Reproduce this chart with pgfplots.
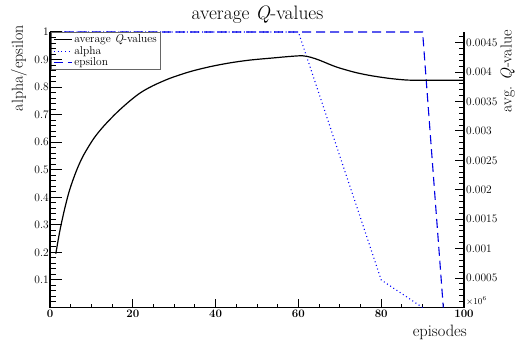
\documentclass[border=0pt]{standalone}
\usepackage{fontspec}
\usepackage{pgfplots}
\pgfplotsset{compat=1.18}
\begin{document}
\begin{tikzpicture}
\pgfplotsset{
  common/.style={
    at={(0,0)}, anchor=south west, scale only axis,
    width=414bp, height=275.5bp,
    xmin=0, xmax=100,
    axis line style={-, line width=1.4bp, black},
    tick align=inside,
    tick style={line width=1bp, black},
    ticklabel style={font=\fontsize{11.5}{12}\selectfont},
    /pgf/number format/assume math mode=true,
  }
}
\begin{axis}[common,
  ymin=0, ymax=1,
  axis x line*=bottom, axis y line=none,
  xtick={0,20,40,60,80,100},
  minor xtick={0,5,...,100},
  major tick length=8bp, minor tick length=4bp,
  xticklabel={\textbf{\pgfmathprintnumber{\tick}}},
  xticklabel style={inner sep=2bp},
  clip=false,
  legend cell align=left,
  legend style={at={(0.002,1)}, anchor=north west, draw=gray!80!black, line width=0.8bp,
    fill=white, inner xsep=2bp, inner ysep=0.5bp, row sep=-2bp,
    font=\fontsize{11.5}{11.5}\selectfont},
  legend image code/.code={\draw[#1] (0bp,0bp) -- (18bp,0bp);},
]
\addlegendimage{black, line width=1.1bp}
\addlegendentry{average \textit{Q}-values}
\addplot[blue, dash pattern=on 1bp off 2.8bp, line width=1.1bp] coordinates {(0,1) (60,1) (80,0.1) (90,0)};
\addlegendentry{alpha}
\addplot[blue!90!black, dash pattern=on 9bp off 5bp, line width=1.1bp] coordinates {(0,1) (90,1) (95,0)};
\addlegendentry{epsilon}
\end{axis}
\begin{axis}[common,
  ymin=0, ymax=1,
  axis x line=none, axis y line*=left,
  ytick={0.1,0.2,0.3,0.4,0.5,0.6,0.7,0.8,0.9,1},
  minor ytick={0,0.02,...,1.001},
  major tick length=12.5bp, minor tick length=6bp,
  yticklabel style={/pgf/number format/fixed, inner sep=1bp},
]
\addplot[draw=none] coordinates {(0,0)};
\end{axis}
\begin{axis}[common,
  ymin=0, ymax=0.00468,
  axis x line=none, axis y line*=right,
  ytick={0.0005,0.001,0.0015,0.002,0.0025,0.003,0.0035,0.004,0.0045},
  minor ytick={0,0.0001,0.0002,0.0003,0.0004,0.0006,0.0007,0.0008,0.0009,0.0011,0.0012,0.0013,0.0014,0.0016,0.0017,0.0018,0.0019,0.0021,0.0022,0.0023,0.0024,0.0026,0.0027,0.0028,0.0029,0.0031,0.0032,0.0033,0.0034,0.0036,0.0037,0.0038,0.0039,0.0041,0.0042,0.0043,0.0044,0.0046},
  major tick length=9bp, minor tick length=5bp,
  scaled y ticks=false,
  yticklabel style={/pgf/number format/fixed, /pgf/number format/precision=4, inner sep=2bp},
]
\addplot[black, line width=1.2bp, smooth] coordinates {
(1.4,0.000913) (2.4,0.001310) (3.6,0.001694) (4.8,0.002012) (6.4,0.002326)
(8,0.002574) (10.5,0.002864) (12.9,0.003075) (16.1,0.003309) (19.3,0.003510)
(22,0.003655) (25,0.003772) (29,0.003894) (33.8,0.004006) (38.6,0.004090)
(43.5,0.004156) (48.3,0.004203) (54,0.004240) (58,0.004265) (61,0.004276)
(63,0.004250) (65.2,0.004198) (69,0.004090) (73.3,0.004001) (77,0.003945)
(81.3,0.003898) (85,0.003870) (88,0.003861) (100,0.003861)};
\end{axis}
\node[anchor=base, inner sep=0, font=\fontsize{19.5}{20}\selectfont] at (207.5bp,287.5bp) {average \textit{Q}-values};
\node[rotate=90, anchor=south east, inner sep=0, font=\fontsize{16}{16}\selectfont] at (-23bp,282.5bp) {alpha/epsilon};
\node[rotate=90, anchor=south east, inner sep=0, font=\fontsize{16}{16}\selectfont] at (465bp,277.5bp) {avg. \textit{Q}-value};
\node[anchor=base east, inner sep=0, font=\fontsize{16.5}{17}\selectfont] at (417bp,-28.5bp) {episodes};
\node[anchor=south west, inner sep=0, font=\fontsize{9}{9}\selectfont] at (416bp,2.5bp) {×10\textsuperscript{6}};
\pgfresetboundingbox
\useasboundingbox (-50bp,-37.5bp) rectangle (465bp,307.5bp);
\end{tikzpicture}
\end{document}
